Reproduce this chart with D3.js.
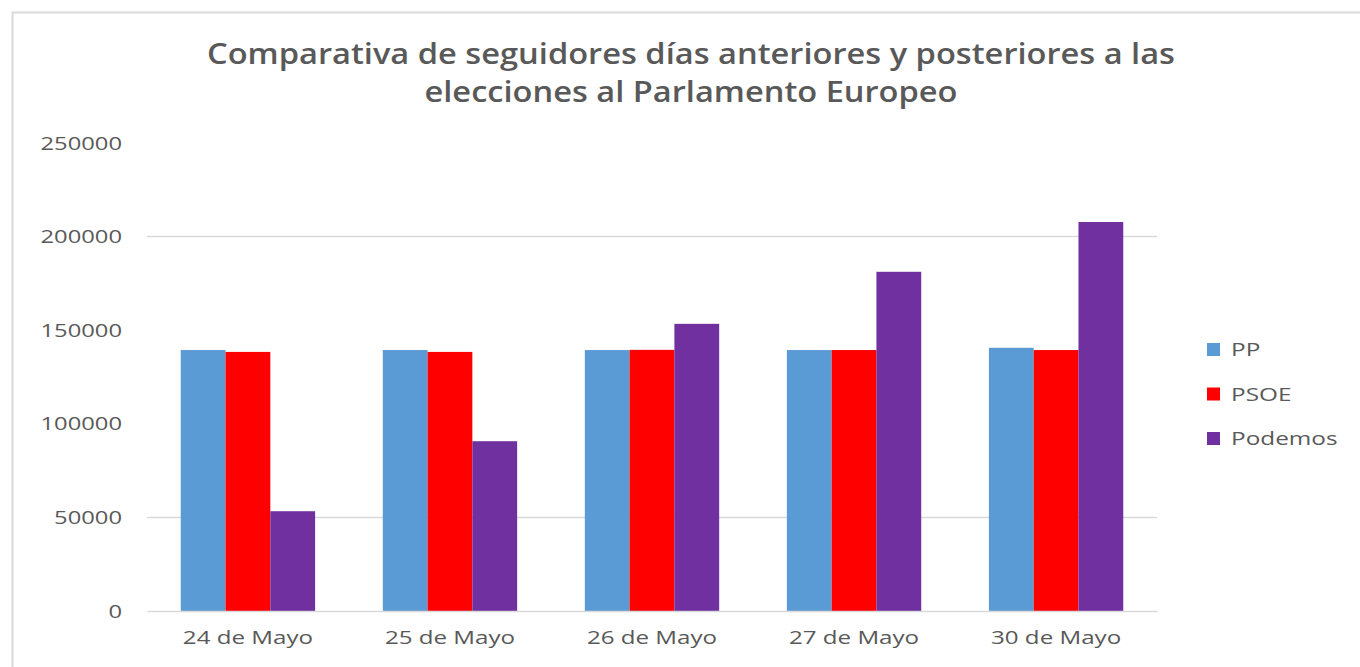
<!DOCTYPE html>
<meta charset="utf-8">
<style>
  body { margin: 0; background: #fff; }
  text { font-family: "Open Sans", "Noto Sans", sans-serif; }
</style>
<script src="https://d3js.org/d3.v7.min.js"></script>
<div id="chart"></div>
<script>
var dias = ["24 de Mayo", "25 de Mayo", "26 de Mayo", "27 de Mayo", "30 de Mayo"];
var partidos = ["PP", "PSOE", "Podemos"];
var colores = ["#5B9BD5", "#FF0000", "#7030A0"];
var pp      = [139400, 139400, 139400, 139400, 140600];
var psoe    = [138400, 138400, 139500, 139400, 139400];
var podemos = [53300, 90700, 153400, 181200, 207800];
var yTicks = [0, 50000, 100000, 150000, 200000, 250000];
// only these gridlines show in the picture
var gridValues = [50000, 200000];

var width = 1360, height = 667;
var margin = {left: 147, right: 203, top: 143, bottom: 56};

var svg = d3.select("#chart").append("svg")
  .attr("width", width).attr("height", height);

// the original text looks stretched sideways, so widen it
function stretch(sel, k) {
  sel.each(function() {
    var w = this.getComputedTextLength();
    d3.select(this).attr("textLength", w * k).attr("lengthAdjust", "spacingAndGlyphs");
  });
}

// frame round the chart
svg.append("rect")
  .attr("x", 12.5).attr("y", 12.5)
  .attr("width", width).attr("height", height)
  .style("fill", "none").style("stroke", "#d9d9d9").style("stroke-width", 2);

var series = [pp, psoe, podemos];

var x = d3.scaleBand().domain(dias)
  .range([margin.left, width - margin.right]).paddingInner(0.335).paddingOuter(0.167);
var x1 = d3.scaleBand().domain(partidos).range([0, x.bandwidth()]);
var y = d3.scaleLinear().domain([0, 250000]).range([height - margin.bottom, margin.top]);

// title
svg.append("text")
  .attr("x", 691).attr("y", 64)
  .attr("text-anchor", "middle")
  .attr("textLength", 968).attr("lengthAdjust", "spacingAndGlyphs")
  .style("font-size", "28px").style("font-weight", 600).style("fill", "#595959")
  .text("Comparativa de seguidores días anteriores y posteriores a las");
svg.append("text")
  .attr("x", 691).attr("y", 102)
  .attr("text-anchor", "middle")
  .attr("textLength", 533).attr("lengthAdjust", "spacingAndGlyphs")
  .style("font-size", "28px").style("font-weight", 600).style("fill", "#595959")
  .text("elecciones al Parlamento Europeo");

// gridlines
svg.selectAll(".grid").data(gridValues).enter().append("line")
  .attr("x1", margin.left).attr("x2", width - margin.right)
  .attr("y1", function(d) { return y(d); }).attr("y2", function(d) { return y(d); })
  .style("stroke", "#d9d9d9").style("stroke-width", 1.5);

// y axis labels
var yAxis = d3.axisLeft(y).tickValues(yTicks).tickSize(0).tickPadding(25).tickFormat(d3.format("d"));
var ya = svg.append("g").attr("transform", "translate(" + margin.left + ",0)").call(yAxis);
ya.select(".domain").remove();
ya.selectAll("text").style("font-size", "19px").style("fill", "#595959")
  .style("font-family", "'Open Sans', sans-serif").call(stretch, 1.25);

// bars
var grupos = svg.selectAll(".grupo").data(dias).enter().append("g")
  .attr("transform", function(d) { return "translate(" + x(d) + ",0)"; });
grupos.selectAll("rect")
  .data(function(d, i) { return partidos.map(function(p, j) { return {p: p, v: series[j][i], c: colores[j]}; }); })
  .enter().append("rect")
  .attr("x", function(d) { return x1(d.p); })
  .attr("width", x1.bandwidth())
  .attr("y", function(d) { return y(d.v); })
  .attr("height", function(d) { return y(0) - y(d.v); })
  .style("fill", function(d) { return d.c; });

// baseline + x labels
var xAxis = d3.axisBottom(x).tickSize(0).tickPadding(20);
var xa = svg.append("g").attr("transform", "translate(0," + y(0) + ")").call(xAxis);
xa.select(".domain").style("stroke", "#d9d9d9").style("stroke-width", 1.5);
xa.selectAll("text").style("font-size", "19px").style("fill", "#595959")
  .style("font-family", "'Open Sans', sans-serif").call(stretch, 1.27);

// legend
var leg = svg.selectAll(".leg").data(partidos).enter().append("g")
  .attr("transform", function(d, i) { return "translate(1207," + (343 + i * 44.5) + ")"; });
leg.append("rect").attr("width", 13).attr("height", 13)
  .style("fill", function(d, i) { return colores[i]; });
leg.append("text").attr("x", 24).attr("y", 13)
  .style("font-size", "19px").style("fill", "#595959")
  .text(function(d) { return d; })
  .call(stretch, 1.28);
</script>
